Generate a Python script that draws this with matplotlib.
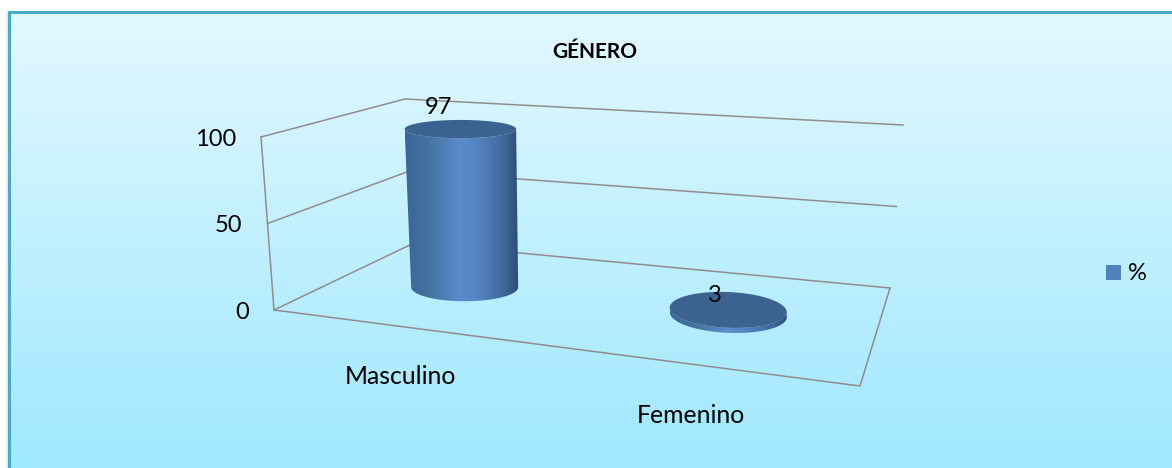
"""GÉNERO: fake-3D cylinder chart drawn on a plain 2D axes in pixel coords."""
import numpy as np
import matplotlib.pyplot as plt
from matplotlib.colors import LinearSegmentedColormap
from matplotlib.patches import Polygon, Rectangle

plt.rcParams["font.family"] = ["Lato", "DejaVu Sans"]

title = "GÉNERO"
categories = ["Masculino", "Femenino"]
percent = [97, 3]
y_ticks = [0, 50, 100]
series_name = "%"

W, H = 1172, 468
FRONT_LEFT = (274, 310)
BACK_LEFT = (414, 243)
BACK_RIGHT = (890, 288)
FRONT_RIGHT = (860, 386)
UP_FRONT_LEFT = (261, 137)
UP_BACK_LEFT = (405, 99)
UP_BACK_RIGHT = (903, 125)
PX_PER_UNIT = 1.63
RADIUS_X = [53.5, 58.5]
RADIUS_Y = [14, 18]
TILT_DEG = [0, 2.5]
NUDGE = [(0.5, 2), (3.5, 1)]
FONT = 17
FONT_CAT = 17.8

GRID = "#928c8a"
TOP = "#3c6390"
SIDE = LinearSegmentedColormap.from_list(
    "side", [(0, "#3a669c"), (0.2, "#44719f"), (0.48, "#5a8bcb"), (0.62, "#5585c2"),
             (0.85, "#426b9e"), (1, "#2d4c75")])
BG = LinearSegmentedColormap.from_list("bg", ["#e3f8ff", "#9fe8ff"])


# floor plane: unit square (u along categories, v into the page) -> pixels
def homography(corners):
    src = [(0, 0), (1, 0), (1, 1), (0, 1)]
    A, b = [], []
    for (u, v), (x, y) in zip(src, corners):
        A.append([u, v, 1, 0, 0, 0, -u * x, -v * x]); b.append(x)
        A.append([0, 0, 0, u, v, 1, -u * y, -v * y]); b.append(y)
    return np.append(np.linalg.solve(np.array(A, float), np.array(b, float)), 1).reshape(3, 3)


M = homography([FRONT_LEFT, FRONT_RIGHT, BACK_RIGHT, BACK_LEFT])


def floor(u, v):
    p = M @ np.array([u, v, 1.0])
    return p[:2] / p[2]


def lerp(a, b, t):
    return np.array(a) + (np.array(b) - np.array(a)) * t


def ellipse(cx, cy, rx, ry, tilt, t):
    a = np.radians(tilt)
    x, y = rx * np.cos(t), ry * np.sin(t)
    return cx + x * np.cos(a) - y * np.sin(a), cy + x * np.sin(a) + y * np.cos(a)


fig = plt.figure(figsize=(W / 100, H / 100), dpi=100, facecolor="white")
ax = fig.add_axes([0, 0, 1, 1])
ax.set_xlim(0, W); ax.set_ylim(H, 0); ax.axis("off")

# ====== background + border ======
ax.imshow(np.linspace(0, 1, 256)[:, None], cmap=BG, extent=(9, W, H, 12), aspect="auto", zorder=0)
ax.add_patch(Rectangle((6, 11), 2, H, color="#ececec", lw=0, zorder=0))
ax.plot([9, 9, W], [H, 12, 12], color="#46acc8", lw=2.2, solid_joinstyle="miter", zorder=1)
ax.set_xlim(0, W); ax.set_ylim(H, 0)

# ====== walls + floor ======
top = max(y_ticks)
for val in y_ticks:
    t = val / top
    a = lerp(FRONT_LEFT, UP_FRONT_LEFT, t)
    b = lerp(BACK_LEFT, UP_BACK_LEFT, t)
    c = lerp(BACK_RIGHT, UP_BACK_RIGHT, t)
    ax.plot([a[0], b[0], c[0]], [a[1], b[1], c[1]], color=GRID, lw=1.1, zorder=2)
    ax.text(a[0] - 25, a[1] + 2.5, str(val), ha="right", va="center", fontsize=FONT, color="black", zorder=6)
ax.plot([UP_FRONT_LEFT[0], FRONT_LEFT[0], FRONT_RIGHT[0], BACK_RIGHT[0]],
        [UP_FRONT_LEFT[1], FRONT_LEFT[1], FRONT_RIGHT[1], BACK_RIGHT[1]], color=GRID, lw=1.1, zorder=2)

# ====== cylinders ======
n = len(categories)
for i, val in enumerate(percent):
    cx, cy = floor((i + 0.5) / n, 0.5) + np.array(NUDGE[i])
    rx, ry = RADIUS_X[i], RADIUS_Y[i]
    top_cx = cx - 0.044 * val
    top_cy = cy - val * PX_PER_UNIT
    top_rx = rx + 0.023 * val
    top_ry = ry - 0.05 * val
    t = np.linspace(0, np.pi, 80)
    bx, by = ellipse(cx, cy, rx, ry, TILT_DEG[i], t)
    tx, ty = ellipse(top_cx, top_cy, top_rx, top_ry, TILT_DEG[i], t)
    side = Polygon(np.r_[np.c_[bx, by], np.c_[tx[::-1], ty[::-1]]], closed=True, fc="none", ec="none")
    ax.add_patch(side)
    left, right = min(bx.min(), tx.min()), max(bx.max(), tx.max())
    grad = ax.imshow(np.linspace(0, 1, 256)[None, :], cmap=SIDE,
                     extent=(left, right, by.max() + 1, ty.min() - 1), aspect="auto", zorder=3)
    grad.set_clip_path(side)
    t = np.linspace(0, 2 * np.pi, 160)
    ex, ey = ellipse(top_cx, top_cy, top_rx, top_ry, TILT_DEG[i], t)
    ax.fill(ex, ey, fc=TOP, ec="none", zorder=4)
ax.set_xlim(0, W); ax.set_ylim(H, 0)

# ====== text ======
ax.text(595, 51.5, title, ha="center", va="center", fontsize=15, fontweight="bold", color="black", zorder=6)
val_pos = [(438, 108), (715, 296)]
for (x, y), val in zip(val_pos, percent):
    ax.text(x, y, str(val), ha="center", va="center", fontsize=FONT, color="black", zorder=6)
cat_pos = [(400, 376.5), (691, 415.5)]
for (x, y), name in zip(cat_pos, categories):
    ax.text(x, y, name, ha="center", va="center", fontsize=FONT_CAT, color="black", zorder=6)

# ====== legend ======
ax.add_patch(Rectangle((1106, 265), 15, 15, fc="#4f81bd", ec="none", zorder=6))
ax.text(1128, 273, series_name, ha="left", va="center", fontsize=FONT, color="black", zorder=6)

fig.savefig("out.png", dpi=100, facecolor="white")
